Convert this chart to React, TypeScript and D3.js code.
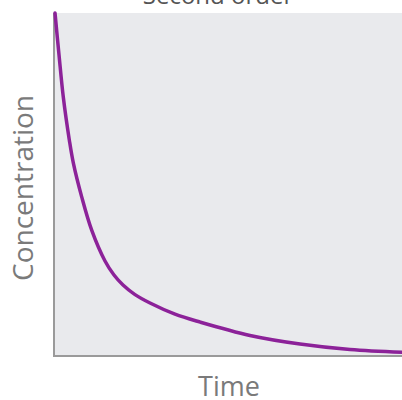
import React, { useEffect, useRef } from 'react';
import * as d3 from 'd3';

// values
const timeValues = [0.029, 0.144, 0.267, 0.44, 0.555, 0.796, 1.083, 1.466, 1.724, 1.983, 2.328, 2.759, 3.477, 4.195, 5.632, 7.069, 8.506, 10];
const concentrationValues = [10, 8.78, 7.55, 6.3, 5.63, 4.64, 3.67, 2.77, 2.36, 2.07, 1.79, 1.545, 1.22, 0.99, 0.6, 0.35, 0.19, 0.11];

const title = 'Second order';
const xLabel = 'Time';
const yLabel = 'Concentration';

const W = 402;
const H = 400;
const font = '"Open Sans", "Noto Sans", sans-serif';

const App: React.FC = () => {
  const svgRef = useRef<SVGSVGElement>(null);

  useEffect(() => {
    if (!svgRef.current) return;
    const svg = d3.select(svgRef.current);
    svg.selectAll('*').remove();

    const left = 54, right = 402, top = 13, bottom = 356;
    const x = d3.scaleLinear().domain([0, 10]).range([left, right]);
    const y = d3.scaleLinear().domain([0, 10]).range([bottom, top]);

    // plot background
    svg.append('rect')
      .attr('x', left).attr('y', top)
      .attr('width', right - left).attr('height', bottom - top)
      .attr('fill', '#e9eaed');

    // axes
    svg.append('line')
      .attr('x1', left).attr('y1', top).attr('x2', left).attr('y2', bottom)
      .attr('stroke', '#9a9a9a').attr('stroke-width', 2);
    svg.append('line')
      .attr('x1', left - 1).attr('y1', bottom).attr('x2', right).attr('y2', bottom)
      .attr('stroke', '#9a9a9a').attr('stroke-width', 2);

    const pts: [number, number][] = timeValues.map((t, i) => [x(t), y(concentrationValues[i])]);
    const line = d3.line<[number, number]>().curve(d3.curveCatmullRom.alpha(0.5));
    svg.append('path')
      .attr('d', line(pts))
      .attr('fill', 'none')
      .attr('stroke', '#8c2299')
      .attr('stroke-width', 3.5)
      .attr('stroke-linecap', 'round');

    svg.append('text')
      .attr('x', 218).attr('y', 4)
      .attr('text-anchor', 'middle')
      .attr('font-family', font).attr('font-size', 24)
      .attr('fill', '#555')
      .text(title);

    svg.append('text')
      .attr('x', 229).attr('y', 396)
      .attr('text-anchor', 'middle')
      .attr('font-family', font).attr('font-size', 27)
      .attr('fill', '#7a7a7a')
      .text(xLabel);

    svg.append('text')
      .attr('transform', `translate(33, 188) rotate(-90)`)
      .attr('text-anchor', 'middle')
      .attr('font-family', font).attr('font-size', 28)
      .attr('fill', '#7a7a7a')
      .text(yLabel);
  }, []);

  return (
    <div style={{ position: 'absolute', left: 0, top: 0, width: W, height: H, background: '#fff' }}>
      <svg ref={svgRef} width={W} height={H} />
    </div>
  );
};

export default App;
